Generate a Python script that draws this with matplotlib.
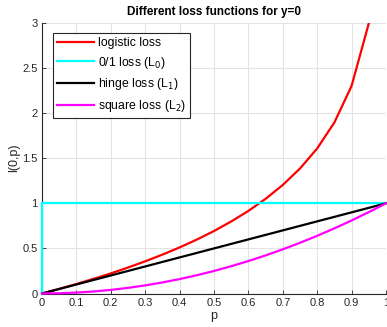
import matplotlib
matplotlib.use("Agg")
import matplotlib.pyplot as plt

plt.rcParams['font.family'] = ['Liberation Sans', 'DejaVu Sans']

p = [0.0, 0.05, 0.1, 0.15, 0.2, 0.25, 0.3, 0.35, 0.4, 0.45, 0.5,
     0.55, 0.6, 0.65, 0.7, 0.75, 0.8, 0.85, 0.9, 0.95]
logistic = [0.0, 0.051, 0.105, 0.163, 0.223, 0.288, 0.357, 0.431, 0.511, 0.598, 0.693,
            0.799, 0.916, 1.050, 1.204, 1.386, 1.609, 1.897, 2.303, 2.996]
p_full = [0.0, 0.05, 0.1, 0.15, 0.2, 0.25, 0.3, 0.35, 0.4, 0.45, 0.5,
          0.55, 0.6, 0.65, 0.7, 0.75, 0.8, 0.85, 0.9, 0.95, 1.0]
zero_one_x = [0.0, 0.0, 1.0]
zero_one_y = [0.0, 1.0, 1.0]
hinge = [0.0, 0.05, 0.1, 0.15, 0.2, 0.25, 0.3, 0.35, 0.4, 0.45, 0.5,
         0.55, 0.6, 0.65, 0.7, 0.75, 0.8, 0.85, 0.9, 0.95, 1.0]
square = [0.0, 0.0025, 0.01, 0.0225, 0.04, 0.0625, 0.09, 0.1225, 0.16, 0.2025, 0.25,
          0.3025, 0.36, 0.4225, 0.49, 0.5625, 0.64, 0.7225, 0.81, 0.9025, 1.0]
xticks = [0, 0.1, 0.2, 0.3, 0.4, 0.5, 0.6, 0.7, 0.8, 0.9, 1]
xtick_labels = ['0', '0.1', '0.2', '0.3', '0.4', '0.5', '0.6', '0.7', '0.8', '0.9', '1']
yticks = [0, 0.5, 1, 1.5, 2, 2.5, 3]
ytick_labels = ['0', '0.5', '1', '1.5', '2', '2.5', '3']

fig = plt.figure(figsize=(3.87, 3.27), dpi=100)
ax = fig.add_axes([42/387, 1 - 293.5/327, 344/387, 270.5/327])

lw = 1.6
ax.plot(p, logistic, color='#ff0000', lw=lw, label='logistic loss', zorder=3)
ax.plot(zero_one_x, zero_one_y, color='#00ffff', lw=lw, label='0/1 loss (L$_0$)', clip_on=False, zorder=3)
ax.plot(p_full, hinge, color='#000000', lw=lw, label='hinge loss (L$_1$)', clip_on=False, zorder=3)
ax.plot(p_full, square, color='#ff00ff', lw=lw, label='square loss (L$_2$)', clip_on=False, zorder=3)

ax.set_xlim(0, 1)
ax.set_ylim(0, 3)
ax.set_xticks(xticks)
ax.set_xticklabels(xtick_labels)
ax.set_yticks(yticks)
ax.set_yticklabels(ytick_labels)
ax.grid(True, color='#e3e3e3', lw=0.8)
ax.set_axisbelow(True)
for s in ['top', 'right']:
    ax.spines[s].set_visible(False)
for s in ['left', 'bottom']:
    ax.spines[s].set_color('#262626')
    ax.spines[s].set_linewidth(0.8)
ax.tick_params(direction='in', length=3, width=0.6, colors='#262626', labelsize=8, pad=3)

ax.set_title('Different loss functions for y=0', fontsize=8.5, fontweight='bold', pad=6)
ax.set_xlabel('p', fontsize=9, color='#262626', labelpad=2)
ax.set_ylabel('l(0,p)', fontsize=9, color='#262626', labelpad=2)

leg = ax.legend(loc='upper left', bbox_to_anchor=(11/344, 1 - 10/270.5), fontsize=8.8,
                frameon=True, fancybox=False, edgecolor='#262626', framealpha=1,
                handlelength=3.0, handletextpad=0.3, borderpad=0.35, labelspacing=0.45,
                borderaxespad=0)
leg.get_frame().set_linewidth(0.8)
leg.set_zorder(5)

fig.savefig('out.png', dpi=100)
